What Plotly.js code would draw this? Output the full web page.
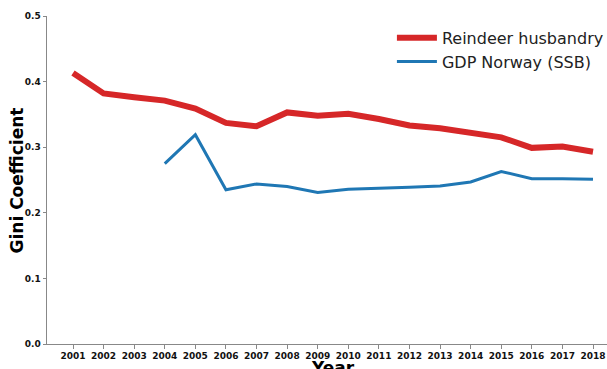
<!DOCTYPE html>
<html><head><meta charset="utf-8">
<script src="https://cdn.plot.ly/plotly-3.0.1.min.js"></script>
<style>html,body{margin:0;padding:0;overflow:hidden;background:#fff}#chart{width:640px;height:369px}</style>
</head><body><div id="chart"></div>
<script>
const years = [2001,2002,2003,2004,2005,2006,2007,2008,2009,2010,2011,2012,2013,2014,2015,2016,2017,2018];
const reindeer = [0.413,0.382,0.376,0.371,0.359,0.337,0.332,0.353,0.348,0.351,0.343,0.333,0.329,0.321,0.315,0.299,0.301,0.293];
const gdpYears = [2004,2005,2006,2007,2008,2009,2010,2011,2012,2013,2014,2015,2016,2017,2018];
const gdp = [0.275,0.319,0.235,0.244,0.240,0.231,0.236,0.237,0.239,0.241,0.247,0.263,0.252,0.252,0.251];
const yTicks = [0,0.1,0.2,0.3,0.4,0.5];
const xTitle = 'Year';
const yTitle = 'Gini Coefficient';

const traces = [
  {x: years, y: reindeer, name: 'Reindeer husbandry', mode: 'lines', line: {color: '#d62728', width: 6}},
  {x: gdpYears, y: gdp, name: 'GDP Norway (SSB)', mode: 'lines', line: {color: '#1f77b4', width: 3}}
];
const titleFont = {family: 'DejaVu Sans', size: 17, color: '#000', weight: 'bold'};
const layout = {
  width: 640, height: 369,
  margin: {l: 47, r: 21, t: 16, b: 25},
  paper_bgcolor: '#fff', plot_bgcolor: '#fff',
  font: {family: 'DejaVu Sans', color: '#000'},
  showlegend: true,
  legend: {x: 0.603, y: 0.985, xanchor: 'left', yanchor: 'top', bgcolor: 'rgba(0,0,0,0)', itemwidth: 40,
           font: {family: 'DejaVu Sans', size: 16, color: '#222'}, tracegroupgap: 0},
  xaxis: {
    range: [2000.15, 2018.85], tickmode: 'array', tickvals: years, ticktext: years.map(String),
    showgrid: false, zeroline: false, showline: true, linecolor: '#888', linewidth: 1,
    ticks: 'outside', ticklen: 3.5, tickcolor: '#888', tickwidth: 1,
    tickfont: {family: 'DejaVu Sans', size: 9, color: '#111', weight: 'bold'},
    automargin: false
  },
  yaxis: {
    range: [0, 0.5], tickmode: 'array', tickvals: yTicks, ticktext: yTicks.map(v => v.toFixed(1)),
    showgrid: false, zeroline: false, showline: true, linecolor: '#888', linewidth: 1,
    ticks: 'outside', ticklen: 3.5, tickcolor: '#888', tickwidth: 1,
    tickfont: {family: 'DejaVu Sans', size: 9, color: '#111', weight: 'bold'},
    automargin: false
  },
  annotations: [
    {text: xTitle, xref: 'paper', yref: 'paper', x: 0.5, y: 0, xanchor: 'center', yanchor: 'top',
     yshift: -12, showarrow: false, font: titleFont},
    {text: yTitle, xref: 'paper', yref: 'paper', x: -0.0516, y: 0.5, xanchor: 'center', yanchor: 'middle',
     textangle: -90, showarrow: false, font: titleFont}
  ]
};
Plotly.newPlot('chart', traces, layout, {displayModeBar: false, staticPlot: true});
</script></body></html>
